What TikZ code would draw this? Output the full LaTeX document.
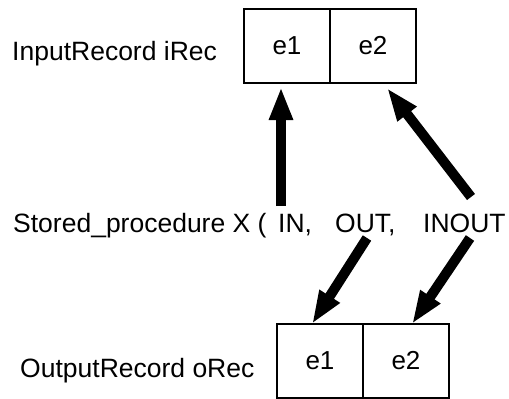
\documentclass[tikz,border=0pt]{standalone}
\usepackage{fontspec}
\setmainfont{Liberation Sans}
\usepackage{tikz}
\usetikzlibrary{positioning}
\usetikzlibrary{arrows.meta}
\tikzstyle{cell}=[rectangle, draw=black, line width=1.5pt, outer sep=0pt,
  minimum width=86pt, minimum height=74pt, inner sep=0pt,
  font=\fontsize{26}{30}\selectfont]
\tikzstyle{label}=[inner sep=0pt, anchor=base west,
  font=\fontsize{26.5}{30}\selectfont]
\tikzstyle{arrfat}=[-{Triangle[length=33pt, width=22pt]}, line width=10pt,
  draw=black]

\begin{document}
\begin{tikzpicture}[x=1pt, y=-1pt]
\useasboundingbox (0,0) rectangle (509,399);

% input record
\node[label] (irec) at (12,60) {InputRecord iRec};
\node[cell] (ie1) at (287,46) {e1};
\node[cell, right=0pt of ie1] (ie2) {e2};

% procedure call
\node[label] (proc) at (13,232) {Stored\_procedure X (};
\node[label] (in) at (278,232) {IN,};
\node[label] (out) at (335,232) {OUT,};
\node[label] (inout) at (423,232) {INOUT};

% output record
\node[label] (orec) at (20,377) {OutputRecord oRec};
\node[cell] (oe1) at (320,361) {e1};
\node[cell, right=0pt of oe1] (oe2) {e2};

\draw[arrfat] ([xshift=3pt, yshift=26pt]in.base west) -- ([xshift=-6pt, yshift=-4pt]ie1.south);
\draw[arrfat] ([xshift=48pt, yshift=35pt]inout.base west) -- ([xshift=14pt, yshift=-5pt]ie2.south);
\draw[arrfat] ([xshift=32pt, yshift=-6pt]out.base west) -- ([xshift=-8pt]oe1.north);
\draw[arrfat] ([xshift=47pt, yshift=-6pt]inout.base west) -- ([xshift=6pt]oe2.north);

\end{tikzpicture}
\end{document}
